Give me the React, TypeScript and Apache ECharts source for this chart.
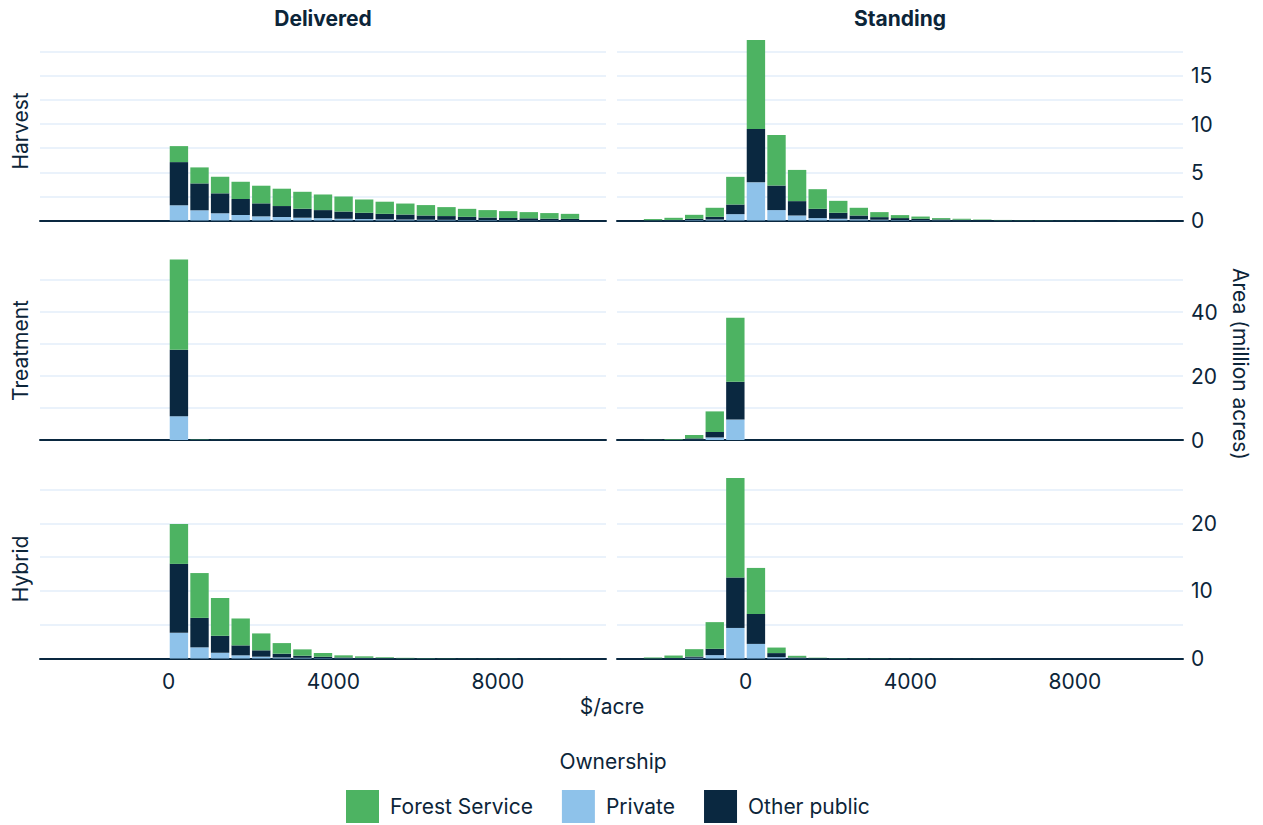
import React, { useEffect, useRef } from "react";
import * as echarts from "echarts";

// Histogram bins ($/acre): each bar covers [start, start + BIN_WIDTH)
const BIN_STARTS = [
  -2500, -2000, -1500, -1000, -500, 0, 500, 1000, 1500, 2000, 2500, 3000, 3500,
  4000, 4500, 5000, 5500, 6000, 6500, 7000, 7500, 8000, 8500, 9000, 9500,
];
const BIN_WIDTH = 500;
const X_MIN = -3125;
const X_MAX = 10625;
const X_TICKS = [0, 4000, 8000];

const COLUMNS = ["Delivered", "Standing"];
const ROWS = ["Harvest", "Treatment", "Hybrid"];
const LEGEND_ORDER = ["Forest Service", "Private", "Other public"];
const Y_GRID_STEP = [2.5, 10, 5];
const Y_LABEL_STEP = [5, 20, 10];

// Area in million acres, per bin
const deliveredHarvestPrivate = [0, 0, 0, 0, 0, 1.58, 1.06, 0.75, 0.57, 0.43, 0.36, 0.29, 0.24, 0.18, 0.15, 0.12, 0.1, 0.08, 0.07, 0.05, 0.05, 0.04, 0.03, 0.03, 0.02];
const deliveredHarvestOther = [0, 0, 0, 0, 0, 4.48, 2.79, 2.07, 1.66, 1.35, 1.14, 0.93, 0.84, 0.75, 0.65, 0.57, 0.52, 0.44, 0.39, 0.33, 0.26, 0.22, 0.2, 0.16, 0.15];
const deliveredHarvestForest = [0, 0, 0, 0, 0, 1.66, 1.66, 1.72, 1.79, 1.83, 1.8, 1.76, 1.62, 1.56, 1.38, 1.26, 1.14, 1.08, 0.93, 0.83, 0.77, 0.71, 0.64, 0.58, 0.52];

const standingHarvestPrivate = [0.01, 0.02, 0.05, 0.1, 0.66, 3.96, 1.08, 0.52, 0.25, 0.18, 0.12, 0.08, 0.05, 0.04, 0.03, 0.02, 0.01, 0.01, 0, 0, 0, 0, 0, 0, 0];
const standingHarvestOther = [0.02, 0.04, 0.13, 0.28, 1.0, 5.54, 2.55, 1.49, 0.96, 0.62, 0.4, 0.27, 0.2, 0.14, 0.08, 0.06, 0.04, 0.02, 0.02, 0.01, 0.01, 0.01, 0.01, 0, 0];
const standingHarvestForest = [0.12, 0.22, 0.41, 0.94, 2.87, 9.23, 5.25, 3.24, 2.04, 1.24, 0.8, 0.52, 0.31, 0.23, 0.14, 0.1, 0.05, 0.03, 0.02, 0.02, 0.01, 0.01, 0, 0.01, 0.01];

const deliveredTreatmentPrivate = [0, 0, 0, 0, 0, 7.44, 0.03, 0, 0, 0, 0, 0, 0, 0, 0, 0, 0, 0, 0, 0, 0, 0, 0, 0, 0];
const deliveredTreatmentOther = [0, 0, 0, 0, 0, 20.76, 0.08, 0.03, 0, 0, 0, 0, 0, 0, 0, 0, 0, 0, 0, 0, 0, 0, 0, 0, 0];
const deliveredTreatmentForest = [0, 0, 0, 0, 0, 28.2, 0.1, 0.04, 0, 0, 0, 0, 0, 0, 0, 0, 0, 0, 0, 0, 0, 0, 0, 0, 0];

const standingTreatmentPrivate = [0, 0.02, 0.1, 0.8, 6.4, 0, 0, 0, 0, 0, 0, 0, 0, 0, 0, 0, 0, 0, 0, 0, 0, 0, 0, 0, 0];
const standingTreatmentOther = [0.05, 0.05, 0.4, 1.7, 11.8, 0, 0, 0, 0, 0, 0, 0, 0, 0, 0, 0, 0, 0, 0, 0, 0, 0, 0, 0, 0];
const standingTreatmentForest = [0.05, 0.2, 1.06, 6.44, 20.0, 0, 0, 0, 0, 0, 0, 0, 0, 0, 0, 0, 0, 0, 0, 0, 0, 0, 0, 0, 0];

const deliveredHybridPrivate = [0, 0, 0, 0, 0, 3.8, 1.65, 0.85, 0.47, 0.27, 0.15, 0.1, 0.06, 0.04, 0.03, 0.02, 0.01, 0.01, 0, 0, 0, 0, 0, 0, 0];
const deliveredHybridOther = [0, 0, 0, 0, 0, 10.2, 4.36, 2.51, 1.47, 0.94, 0.56, 0.31, 0.2, 0.11, 0.07, 0.04, 0.02, 0.01, 0.01, 0.01, 0, 0, 0, 0, 0];
const deliveredHybridForest = [0, 0, 0, 0, 0, 5.9, 6.63, 5.59, 3.98, 2.5, 1.57, 0.94, 0.55, 0.32, 0.22, 0.12, 0.07, 0.04, 0.03, 0.02, 0.02, 0.02, 0.01, 0.01, 0.01];

const standingHybridPrivate = [0.01, 0.02, 0.1, 0.5, 4.52, 2.16, 0.2, 0.04, 0.01, 0.01, 0, 0, 0, 0, 0, 0, 0, 0, 0, 0, 0, 0, 0, 0, 0];
const standingHybridOther = [0.02, 0.06, 0.19, 0.93, 7.47, 4.42, 0.6, 0.11, 0.04, 0.01, 0.01, 0, 0, 0, 0, 0, 0, 0, 0, 0, 0, 0, 0, 0, 0];
const standingHybridForest = [0.12, 0.36, 1.09, 3.95, 14.71, 6.82, 0.82, 0.25, 0.07, 0.04, 0.03, 0.03, 0.02, 0.02, 0.01, 0.01, 0.01, 0, 0, 0, 0, 0, 0, 0, 0];

// [row][column] -> layers by ownership
const PANELS = [
  [
    { "Private": deliveredHarvestPrivate, "Other public": deliveredHarvestOther, "Forest Service": deliveredHarvestForest },
    { "Private": standingHarvestPrivate, "Other public": standingHarvestOther, "Forest Service": standingHarvestForest },
  ],
  [
    { "Private": deliveredTreatmentPrivate, "Other public": deliveredTreatmentOther, "Forest Service": deliveredTreatmentForest },
    { "Private": standingTreatmentPrivate, "Other public": standingTreatmentOther, "Forest Service": standingTreatmentForest },
  ],
  [
    { "Private": deliveredHybridPrivate, "Other public": deliveredHybridOther, "Forest Service": deliveredHybridForest },
    { "Private": standingHybridPrivate, "Other public": standingHybridOther, "Forest Service": standingHybridForest },
  ],
];
// Bottom to top within each bar
const STACK_ORDER = ["Private", "Other public", "Forest Service"];

const COLORS: Record<string, string> = {
  "Forest Service": "#4db362",
  "Private": "#8ec2ea",
  "Other public": "#0a2840",
};
const TEXT = "#0c2539";
const GRID_LINE = "#e3eefa";
const FONT = "Inter, 'Noto Sans', sans-serif";
const FONT_SIZE = 21;

// Layout (px)
const COL_LEFT = [40, 617];
const COL_WIDTH = 566;
const ROW_TOP = [31, 250.5, 469];
const ROW_HEIGHT = 189.5;
const BAR_GAP = 2.2;

function buildOption() {
  const grids: any[] = [];
  const xAxes: any[] = [];
  const yAxes: any[] = [];
  const series: any[] = [];

  ROWS.forEach((_, r) => {
    let rowMax = 0;
    PANELS[r].forEach((panel: any) => {
      BIN_STARTS.forEach((_, i) => {
        const total = STACK_ORDER.reduce((s, k) => s + panel[k][i], 0);
        rowMax = Math.max(rowMax, total);
      });
    });
    const yMax = rowMax * 1.05;

    COLUMNS.forEach((_, c) => {
      const idx = grids.length;
      grids.push({ left: COL_LEFT[c], top: ROW_TOP[r], width: COL_WIDTH, height: ROW_HEIGHT });
      xAxes.push({
        type: "value",
        gridIndex: idx,
        min: X_MIN,
        max: X_MAX,
        axisLine: { show: true, lineStyle: { color: "#0a2840", width: 2 } },
        axisTick: { show: false },
        splitLine: { show: false },
        axisLabel: {
          show: r === ROWS.length - 1,
          customValues: X_TICKS,
          formatter: (v: number) => String(v),
          margin: 12,
          fontSize: FONT_SIZE,
          fontFamily: FONT,
          color: TEXT,
        },
      });
      const step = Y_LABEL_STEP[r];
      yAxes.push({
        type: "value",
        gridIndex: idx,
        position: "right",
        min: 0,
        max: yMax,
        interval: Y_GRID_STEP[r],
        axisLine: { show: false },
        axisTick: { show: false },
        splitLine: {
          show: true,
          showMinLine: false,
          showMaxLine: false,
          lineStyle: { color: GRID_LINE, width: 1.5 },
        },
        axisLabel: {
          show: c === 1,
          showMaxLabel: false,
          margin: 8,
          fontSize: FONT_SIZE,
          fontFamily: FONT,
          color: TEXT,
          formatter: (v: number) => (Math.abs(v % step) < 1e-9 ? String(v) : ""),
        },
      });

      // Stacked rectangles: [binStart, binEnd, lower, upper]
      const panel: any = PANELS[r][c];
      const base = BIN_STARTS.map(() => 0);
      STACK_ORDER.forEach((name) => {
        const rows = BIN_STARTS.map((s, i) => {
          const v = panel[name][i];
          const lo = base[i];
          base[i] = lo + v;
          return [s, s + BIN_WIDTH, lo, lo + v];
        });
        const color = COLORS[name];
        series.push({
          type: "custom",
          name,
          xAxisIndex: idx,
          yAxisIndex: idx,
          silent: true,
          itemStyle: { color },
          encode: { x: [0, 1], y: [2, 3] },
          data: rows,
          renderItem: (_p: any, api: any) => {
            const a = api.coord([api.value(0), api.value(2)]);
            const b = api.coord([api.value(1), api.value(3)]);
            const h = a[1] - b[1];
            if (h <= 0) return null;
            return {
              type: "rect",
              shape: { x: a[0] + BAR_GAP / 2, y: b[1], width: b[0] - a[0] - BAR_GAP, height: h },
              style: { fill: color },
            };
          },
        });
      });
    });
  });

  const graphics: any[] = [];
  const textStyle = (text: string, extra: any = {}) => ({
    text,
    fontSize: FONT_SIZE,
    fontFamily: FONT,
    fill: TEXT,
    textAlign: "center",
    textVerticalAlign: "middle",
    ...extra,
  });
  COLUMNS.forEach((label, c) => {
    graphics.push({
      type: "text",
      x: COL_LEFT[c] + COL_WIDTH / 2,
      y: 18,
      style: textStyle(label, { fontWeight: "bold" }),
    });
  });
  ROWS.forEach((label, r) => {
    graphics.push({
      type: "text",
      x: 20,
      y: ROW_TOP[r] + 100,
      rotation: Math.PI / 2,
      style: textStyle(label),
    });
  });
  graphics.push(
    { type: "text", x: 1240, y: 364, rotation: -Math.PI / 2, style: textStyle("Area (million acres)") },
    { type: "text", x: 612, y: 706, style: textStyle("$/acre") },
    { type: "text", x: 613, y: 761, style: textStyle("Ownership") }
  );

  return {
    animation: false,
    backgroundColor: "#ffffff",
    grid: grids,
    xAxis: xAxes,
    yAxis: yAxes,
    series,
    legend: {
      data: LEGEND_ORDER,
      left: 341,
      top: 785,
      icon: "rect",
      itemWidth: 33,
      itemHeight: 33,
      itemGap: 29,
      selectedMode: false,
      textStyle: { fontSize: FONT_SIZE, fontFamily: FONT, color: TEXT, padding: [0, 0, 0, 6] },
    },
    graphic: graphics,
  };
}

export default function App() {
  const ref = useRef<HTMLDivElement>(null);
  useEffect(() => {
    if (!ref.current) return;
    const chart = echarts.init(ref.current, undefined, { renderer: "svg" });
    chart.setOption(buildOption() as any);
    return () => chart.dispose();
  }, []);
  return (
    <div
      ref={ref}
      style={{ position: "fixed", left: 0, top: 0, width: 1263, height: 825, background: "#fff" }}
    />
  );
}
